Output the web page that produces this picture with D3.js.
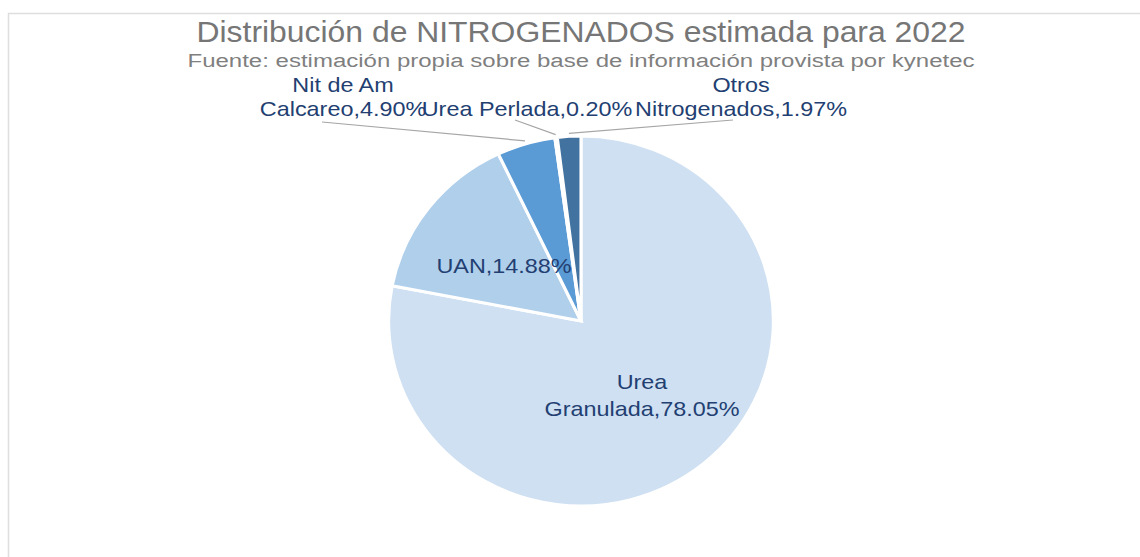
<!DOCTYPE html>
<html>
<head>
<meta charset="utf-8">
<script src="https://cdn.jsdelivr.net/npm/d3@7"></script>
<style>
  html, body { margin: 0; padding: 0; background: #ffffff; }
  svg { display: block; font-family: "Liberation Sans", Arial, sans-serif; }
</style>
</head>
<body>
<div id="chart"></div>
<script>
// data
var categories = ["Urea Granulada", "UAN", "Nit de Am Calcareo", "Urea Perlada", "Otros Nitrogenados"];
var shares = [78.05, 14.88, 4.90, 0.20, 1.97];
var colors = ["#cfe0f2", "#b0cfeb", "#5b9bd5", "#2f6faa", "#42729f"];
// label lines as Excel wraps them
var labelLines = [
    ["Urea", "Granulada,78.05%"],
    ["UAN,14.88%"],
    ["Nit de Am", "Calcareo,4.90%"],
    ["Urea Perlada,0.20%"],
    ["Otros", "Nitrogenados,1.97%"]
];

var width = 1140, height = 557;
var cx = 581, cy = 321, r = 185, sx = 1.04;   // pie is a bit wider than tall
var stretch = 1.17;                           // text is drawn horizontally stretched

// where Excel put each label (center x, baseline of last line, line spacing)
var labelPos = [
    [642, 416, 27],
    [504, 273, 27],
    [343, 116, 24],
    [527, 116, 24],
    [741, 116, 24]
];
// start of leader line relative to label anchor
var leaderStart = [null, null, [-21, 6], [-12, 4], [-8, 4]];

var svg = d3.select("#chart").append("svg")
    .attr("width", width)
    .attr("height", height);

// chart area border (only top and left visible)
svg.append("rect")
    .attr("x", 8.5).attr("y", 13.5)
    .attr("width", 1300).attr("height", 700)
    .attr("fill", "#fff")
    .attr("stroke", "#dedede")
    .attr("stroke-width", 1.5);

var data = categories.map(function(c, i) {
    return { name: c, value: shares[i], color: colors[i], lines: labelLines[i], pos: labelPos[i], lead: leaderStart[i] };
});

var pie = d3.pie().sort(null).value(d => d.value);
var arc = d3.arc().innerRadius(0).outerRadius(r);
var arcs = pie(data);

var pieG = svg.append("g")
    .attr("transform", "translate(" + cx + "," + cy + ") scale(" + sx + ",1)");

pieG.selectAll("path")
    .data(arcs)
    .enter().append("path")
    .attr("d", arc)
    .attr("fill", d => d.data.color)
    .attr("stroke", "#ffffff")
    .attr("stroke-width", 3)
    .attr("stroke-linejoin", "miter");

// leader lines for outside labels
var edge = d3.arc().innerRadius(r + 3).outerRadius(r + 3);
svg.append("g").selectAll("line")
    .data(arcs.filter(d => d.data.lead))
    .enter().append("line")
    .attr("x1", d => d.data.pos[0] + d.data.lead[0])
    .attr("y1", d => d.data.pos[1] + d.data.lead[1])
    .attr("x2", d => cx + edge.centroid(d)[0] * sx)
    .attr("y2", d => cy + edge.centroid(d)[1])
    .attr("stroke", "#a6a6a6")
    .attr("stroke-width", 1.2);

// data labels
var labels = svg.append("g").selectAll("g")
    .data(arcs)
    .enter().append("g")
    .attr("transform", d => "translate(" + d.data.pos[0] + "," + d.data.pos[1] + ") scale(" + stretch + ",1)");

labels.each(function(d) {
    var g = d3.select(this);
    var n = d.data.lines.length;
    d.data.lines.forEach(function(t, k) {
        g.append("text")
            .attr("x", 0)
            .attr("y", (k - (n - 1)) * d.data.pos[2])
            .attr("text-anchor", "middle")
            .attr("font-size", 20)
            .attr("fill", "#233f72")
            .text(t);
    });
});

// titles
svg.append("text")
    .attr("x", 581).attr("y", 42)
    .attr("text-anchor", "middle")
    .attr("font-size", 29)
    .attr("fill", "#767676")
    .attr("textLength", 769)
    .attr("lengthAdjust", "spacingAndGlyphs")
    .text("Distribución de NITROGENADOS estimada para 2022");

svg.append("text")
    .attr("x", 581).attr("y", 67)
    .attr("text-anchor", "middle")
    .attr("font-size", 18)
    .attr("fill", "#7f7f7f")
    .attr("textLength", 787)
    .attr("lengthAdjust", "spacingAndGlyphs")
    .text("Fuente: estimación propia sobre base de información provista por kynetec");
</script>
</body>
</html>
